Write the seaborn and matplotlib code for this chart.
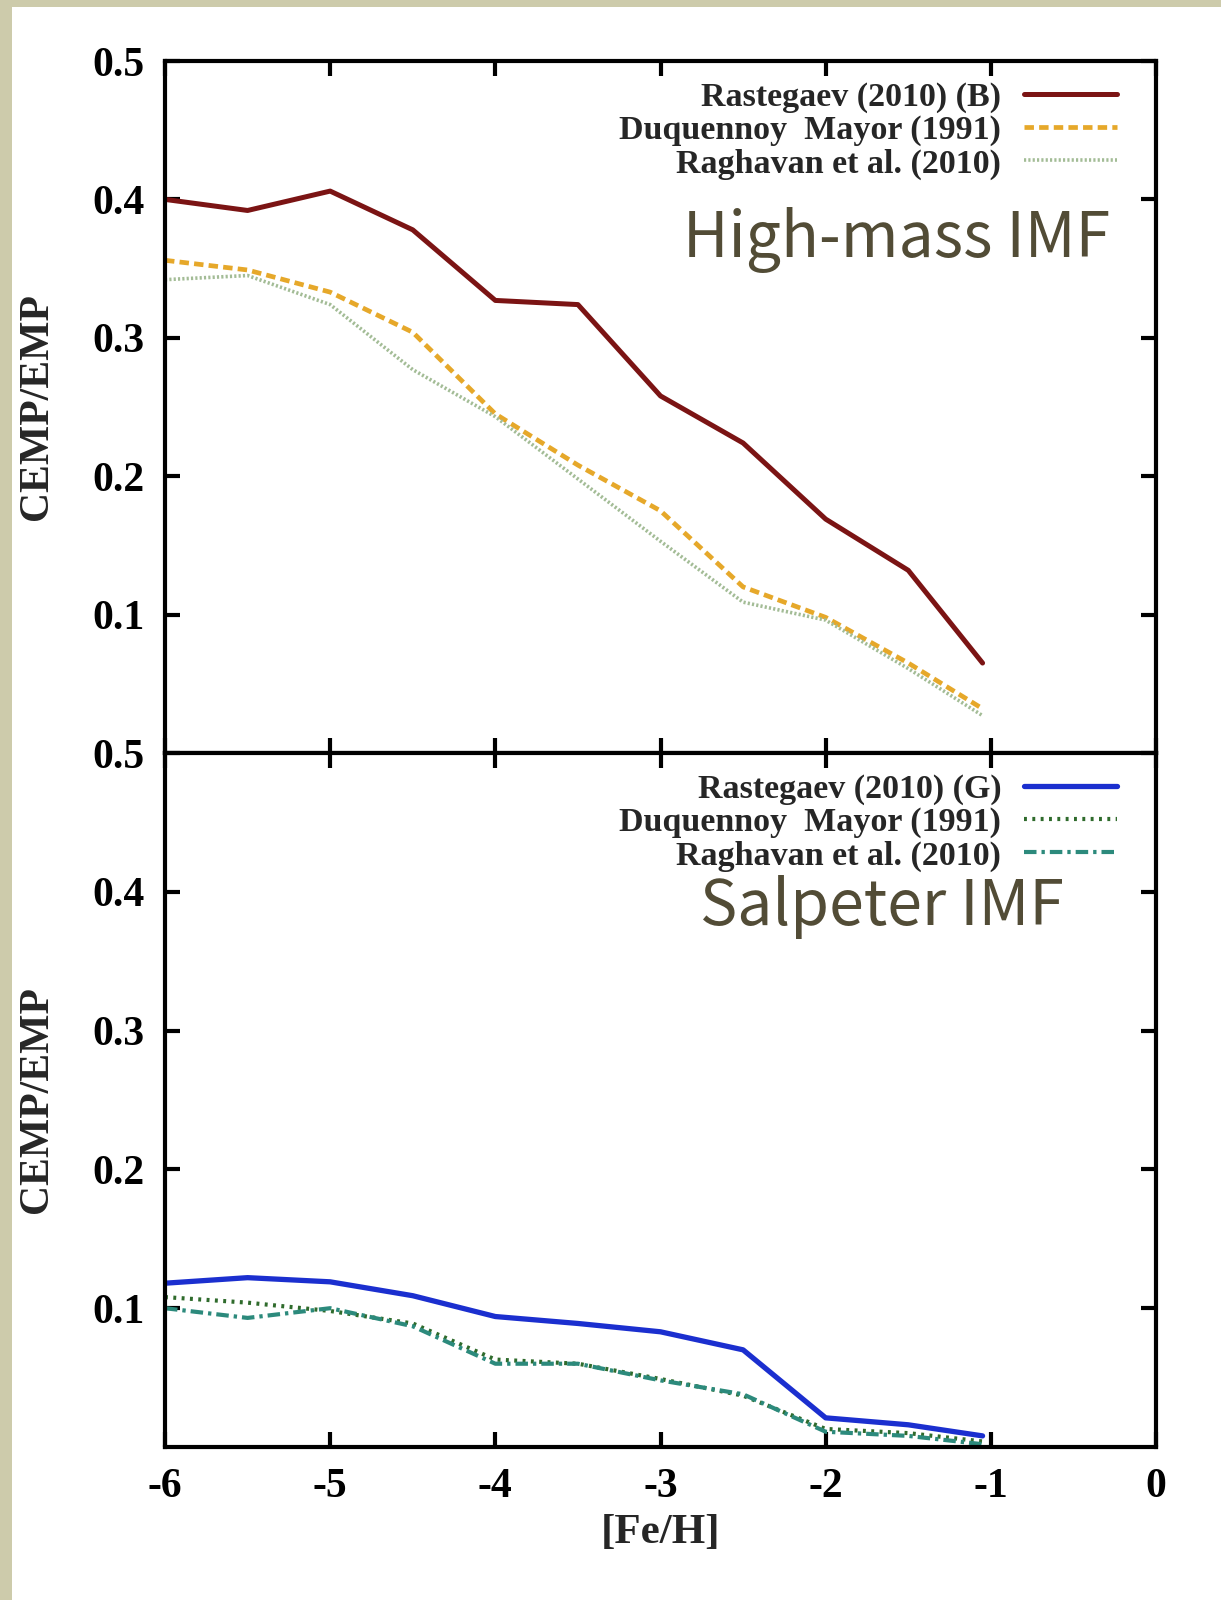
import numpy as np
import pandas as pd
import matplotlib
matplotlib.use("Agg")
import matplotlib.pyplot as plt
import seaborn as sns
from matplotlib.patches import Rectangle

# ---------------------------
# Data
# ---------------------------

feh = [-6.0, -5.5, -5.0, -4.5, -4.0, -3.5, -3.0, -2.5, -2.0, -1.5, -1.05]

# High-mass IMF
high_rastegaev_b = [0.400, 0.392, 0.406, 0.378, 0.327, 0.324, 0.258, 0.224, 0.169, 0.132, 0.065]
high_duquennoy = [0.356, 0.349, 0.333, 0.304, 0.245, 0.208, 0.175, 0.120, 0.098, 0.065, 0.032]
high_raghavan = [0.342, 0.345, 0.324, 0.277, 0.243, 0.198, 0.153, 0.109, 0.096, 0.061, 0.027]

# Salpeter IMF
salp_rastegaev_g = [0.118, 0.122, 0.119, 0.109, 0.094, 0.089, 0.083, 0.070, 0.021, 0.016, 0.008]
salp_duquennoy = [0.108, 0.104, 0.098, 0.089, 0.063, 0.060, 0.049, 0.037, 0.013, 0.010, 0.004]
salp_raghavan = [0.100, 0.093, 0.100, 0.087, 0.060, 0.060, 0.048, 0.038, 0.011, 0.008, 0.002]

x_ticks = [-6, -5, -4, -3, -2, -1, 0]
y_ticks = [0.1, 0.2, 0.3, 0.4, 0.5]

# ---------------------------
# Styling
# ---------------------------

sns.set_theme(style="ticks")
plt.rcParams["font.family"] = ["Liberation Serif", "DejaVu Serif"]
plt.rcParams["font.weight"] = "bold"

SERIF = {"family": ["Liberation Serif", "DejaVu Serif"], "weight": "bold"}
TICK_SIZE = 30
LEG_SIZE = 24.5

panels = [
    {
        "title": "High-mass IMF",
        "title_pos": (0.954, 0.742),
        "series": [
            ("Rastegaev (2010) (B)", high_rastegaev_b, "#7b1414", "-", 3.6),
            ("Duquennoy  Mayor (1991)", high_duquennoy, "#e6a82a", (0, (2.0, 1.1)), 3.4),
            ("Raghavan et al. (2010)", high_raghavan, "#a3bc96", (0, (0.6, 0.6)), 2.6),
        ],
    },
    {
        "title": "Salpeter IMF",
        "title_pos": (0.907, 0.778),
        "series": [
            ("Rastegaev (2010) (G)", salp_rastegaev_g, "#1b2fcf", "-", 3.8),
            ("Duquennoy  Mayor (1991)", salp_duquennoy, "#2f6b2c", (0, (0.7, 1.3)), 3.0),
            ("Raghavan et al. (2010)", salp_raghavan, "#2c8a7c", (0, (3, 1.2, 0.8, 1.2)), 3.0),
        ],
    },
]

# ---------------------------
# Figure
# ---------------------------

fig = plt.figure(figsize=(12.21, 16), dpi=100, facecolor="#cdcbab")
fig.patches.append(Rectangle((12 / 1221, 0), 1 - 12 / 1221, 1 - 7 / 1600,
                             transform=fig.transFigure, facecolor="white",
                             edgecolor="none", zorder=-10))

left = 165 / 1221
width = (1156 - 165) / 1221
top = 1 - 61 / 1600
mid = 1 - 753 / 1600
bottom = 1 - 1447 / 1600

ax_top = fig.add_axes([left, mid, width, top - mid])
ax_bot = fig.add_axes([left, bottom, width, mid - bottom])

for ax, panel in zip([ax_top, ax_bot], panels):
    ax.set_facecolor("white")
    for label, values, color, ls, lw in panel["series"]:
        df = pd.DataFrame({"feh": feh, "ratio": values})
        sns.lineplot(data=df, x="feh", y="ratio", ax=ax, color=color,
                     linestyle=ls, linewidth=lw, label=label)

    ax.set_xlim(-6, 0)
    ax.set_ylim(0, 0.5)
    ax.set_xticks(x_ticks)
    ax.set_yticks(y_ticks)
    ax.set_yticklabels([f"{t:.1f}" for t in y_ticks], fontdict=SERIF, fontsize=TICK_SIZE)
    ax.tick_params(direction="in", length=11, width=3, top=True, right=True,
                   pad=15, colors="black")
    for s in ax.spines.values():
        s.set_linewidth(3)
        s.set_color("black")
    ax.set_ylabel("CEMP/EMP", fontdict=SERIF, fontsize=30)
    ax.yaxis.set_label_coords(-0.110, 0.5)

    ax.legend(loc="upper right", bbox_to_anchor=(0.961, 0.970),
              frameon=False, markerfirst=False, handlelength=2.75,
              handletextpad=0.66, labelspacing=0.06, borderaxespad=0,
              borderpad=0,
              prop={"family": ["Liberation Serif"], "weight": "bold",
                    "size": LEG_SIZE})

    tx, ty = panel["title_pos"]
    ax.text(tx, ty, panel["title"], transform=ax.transAxes, ha="right", va="center",
            fontsize=45, color="#524c36",
            family=["Noto Sans CJK JP", "DejaVu Sans"], fontweight="normal")

ax_top.set_xlabel("")
ax_top.set_xticklabels([])
ax_bot.set_xticklabels([str(t) for t in x_ticks], fontdict=SERIF, fontsize=TICK_SIZE)
ax_bot.set_xlabel("[Fe/H]", fontdict=SERIF, fontsize=31, labelpad=6)

fig.savefig("out.png", dpi=100, facecolor=fig.get_facecolor())
